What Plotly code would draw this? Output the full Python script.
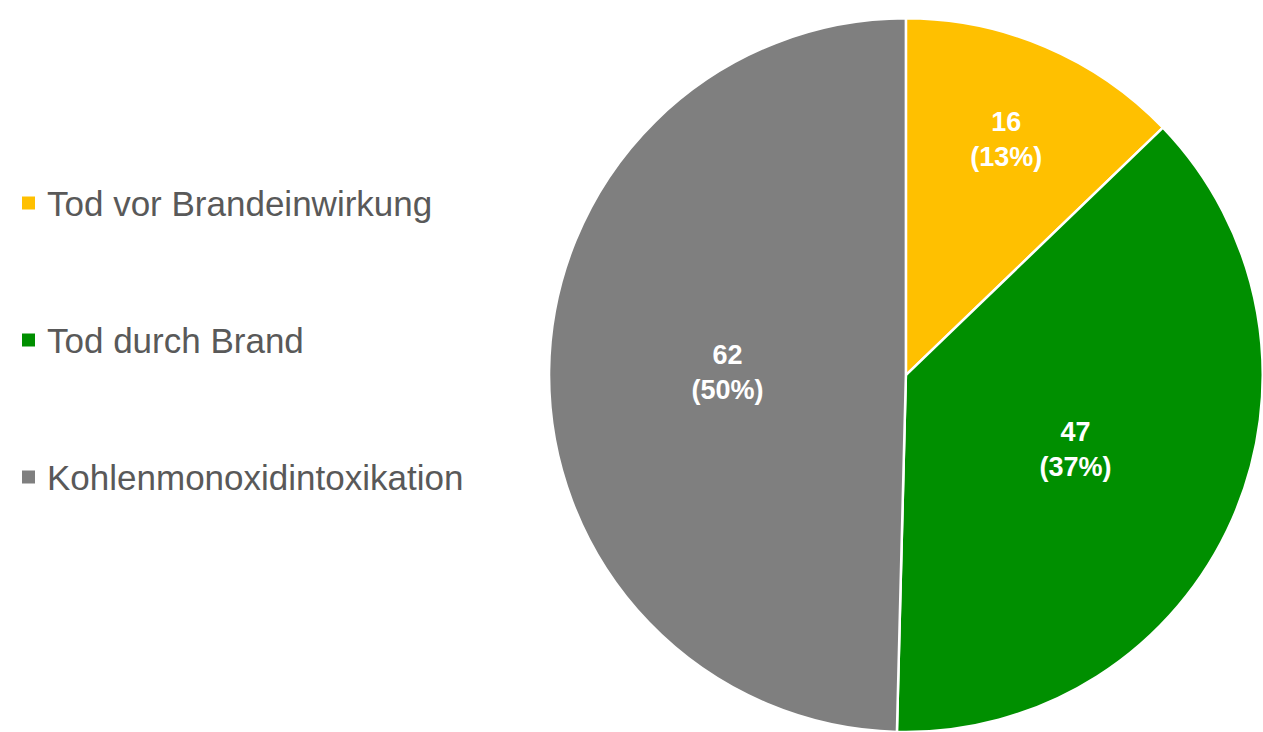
import plotly.graph_objects as go

categories = ["Tod vor Brandeinwirkung", "Tod durch Brand", "Kohlenmonoxidintoxikation"]
values = [16, 47, 62]
pct_labels = ["13%", "37%", "50%"]
colors = ["#FFC000", "#008F00", "#7F7F7F"]

fig = go.Figure()
fig.add_trace(go.Pie(
    labels=categories,
    values=values,
    customdata=pct_labels,
    texttemplate="<b>%{value}<br>(%{customdata})</b>",
    textinfo="text",
    textposition="inside",
    insidetextorientation="horizontal",
    insidetextfont=dict(family="Liberation Sans, Arial, sans-serif", size=27, color="white"),
    marker=dict(colors=colors, line=dict(color="white", width=2.5)),
    sort=False,
    direction="clockwise",
    rotation=0,
    domain=dict(x=[0.4345, 1.0], y=[0.0, 0.975]),
    showlegend=False,
    hoverinfo="label+value",
))

legend_y = [203, 340, 477]
for name, col, yy in zip(categories, colors, legend_y):
    yp = 1 - yy / 732
    fig.add_shape(type="rect", xref="paper", yref="paper",
                  x0=22 / 1263, x1=35 / 1263, y0=yp - 6.5 / 732, y1=yp + 6.5 / 732,
                  fillcolor=col, line=dict(width=0))
    fig.add_annotation(xref="paper", yref="paper", x=45 / 1263, y=yp,
                       xanchor="left", yanchor="middle", showarrow=False,
                       text=name,
                       font=dict(family="Liberation Sans, Arial, sans-serif", size=35, color="#595959"))

fig.update_layout(
    width=1263, height=732,
    margin=dict(l=0, r=0, t=0, b=0),
    paper_bgcolor="white",
    plot_bgcolor="white",
)

fig.write_html("out.html",
               config={"displayModeBar": False},
               post_script="document.body.style.margin='0';document.body.style.overflow='hidden';")
